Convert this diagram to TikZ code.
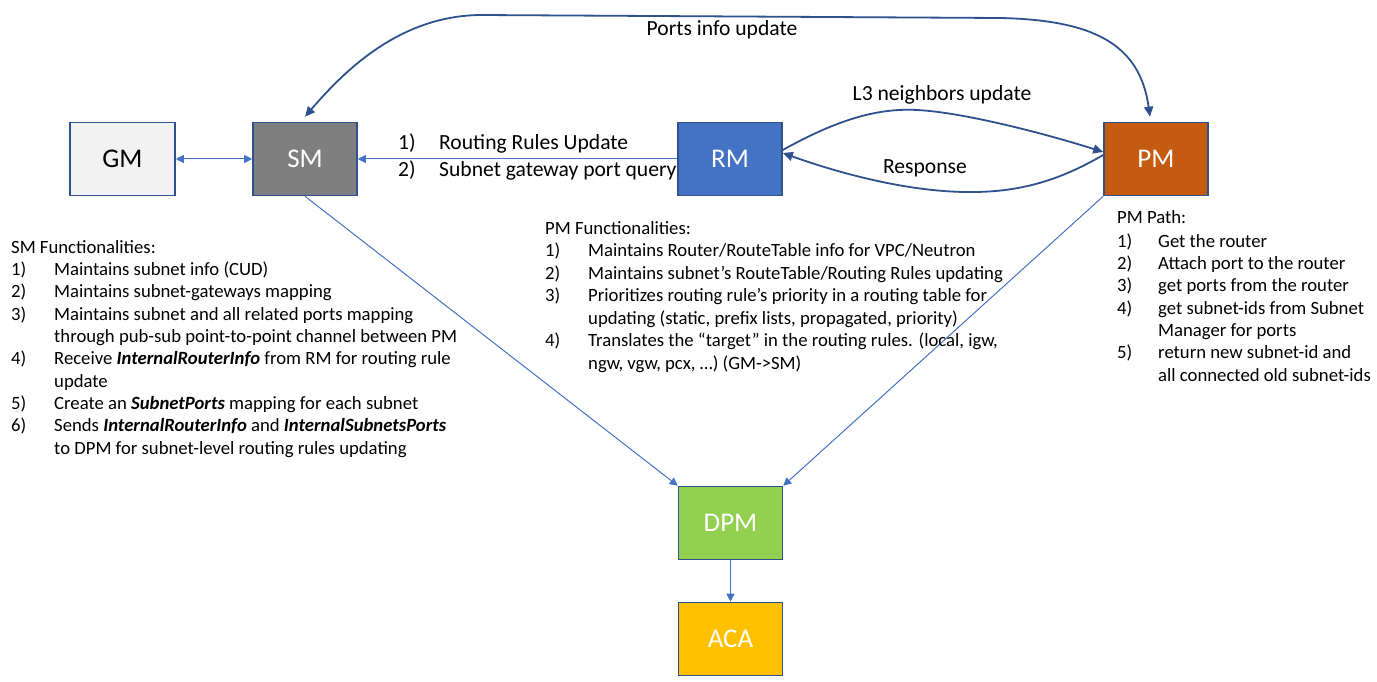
\documentclass[tikz,border=0pt]{standalone}
\usepackage{fontspec}
\setmainfont{Carlito}
\usetikzlibrary{arrows.meta}
\definecolor{bordc}{HTML}{2F528F}
\definecolor{thinc}{HTML}{4472C4}
\definecolor{gmf}{HTML}{F2F2F2}
\definecolor{smf}{HTML}{7F7F7F}
\definecolor{rmf}{HTML}{4472C4}
\definecolor{pmf}{HTML}{C55A11}
\definecolor{dpmf}{HTML}{92D050}
\definecolor{acaf}{HTML}{FFC000}
\newcommand{\bi}[1]{\textbf{\textit{#1}}}
\begin{document}
\begin{tikzpicture}[x=1pt,y=-1pt,
  box/.style={draw=bordc,line width=1.6pt,minimum width=104pt,minimum height=73pt,inner sep=0pt,font=\fontsize{27}{30}\selectfont,text=white},
  thin/.style={draw=thinc,line width=1pt,-{Triangle[width=8pt,length=8pt]}},
  thick/.style={draw=bordc,line width=1.8pt},
  lst/.style={anchor=base west,inner sep=0pt,align=left},
  lbl/.style={inner sep=0pt,font=\fontsize{21.6}{26}\selectfont}]
\useasboundingbox (0,0) rectangle (1377,682);
\fill[white] (0,0) rectangle (1377,682);
% boxes
\node[box,fill=gmf,text=black,minimum width=105pt] (gm) at (122.5,159) {GM};
\node[box,fill=smf] (sm) at (305,159) {SM};
\node[box,fill=rmf] (rm) at (730,159) {RM};
\node[box,fill=pmf] (pm) at (1156,159) {PM};
\node[box,fill=dpmf] (dpm) at (730.5,523) {DPM};
\node[box,fill=acaf] (aca) at (730.5,639) {ACA};
% thin connectors
\draw[thin,{Triangle[width=8pt,length=8pt]}-{Triangle[width=8pt,length=8pt]}] (gm.east) -- (sm.west);
\draw[thin] (rm.west) -- (sm.east);
\draw[thin] (sm.south) -- (dpm.north west);
\draw[thin] (pm.south west) -- (dpm.north east);
\draw[thin] (dpm.south) -- (aca.north);
% thick curves
\draw[thick,{Triangle[width=9pt,length=10pt]}-{Triangle[width=9pt,length=10pt]}]
  ([yshift=5pt]sm.north) .. controls (345,70) and (400,16) .. (480,15)
  -- (1000,18) .. controls (1095,20) and (1140,45) .. ([xshift=-6pt,yshift=5pt]pm.north);
\draw[thick,-{Triangle[width=9pt,length=10pt]}]
  ([yshift=9pt]rm.east) .. controls (840,118) and (880,108) .. (917,110)
  .. controls (960,112) and (1040,132) .. ([yshift=7pt]pm.west);
\draw[thick,-{Triangle[width=9pt,length=10pt]}]
  ([yshift=4pt]pm.west) .. controls (1060,180) and (1020,193) .. (965,192)
  .. controls (900,191) and (830,170) .. ([yshift=6pt]rm.east);
% labels
\node[lbl] (lports) at (722,30) {Ports info update};
\node[lbl] (ll3) at (942,95) {L3 neighbors update};
\node[lbl] (lresp) at (925,168) {Response};
\node[lst,font=\fontsize{21.6}{26}\selectfont] (lrr1) at (398,149.5) {\makebox[41pt][l]{1)}Routing Rules Update};
\node[lst,font=\fontsize{21.6}{26}\selectfont] (lrr2) at (398,177) {\makebox[41pt][l]{2)}Subnet gateway port query};
% lists
\node[lst,font=\fontsize{18.7}{22.33}\selectfont] (smlist) at (11,454) {SM Functionalities:\\
\makebox[43pt][l]{1)}Maintains subnet info (CUD)\\
\makebox[43pt][l]{2)}Maintains subnet-gateways mapping\\
\makebox[43pt][l]{3)}Maintains subnet and all related ports mapping\\
\makebox[43pt][l]{}through pub-sub point-to-point channel between PM\\
\makebox[43pt][l]{4)}Receive \bi{InternalRouterInfo} from RM for routing rule\\
\makebox[43pt][l]{}update\\
\makebox[43pt][l]{5)}Create an \bi{SubnetPorts} mapping for each subnet\\
\makebox[43pt][l]{6)}Sends \bi{InternalRouterInfo} and \bi{InternalSubnetsPorts}\\
\makebox[43pt][l]{}to DPM for subnet-level routing rules updating};
\node[lst,font=\fontsize{18.7}{22.5}\selectfont] (pmfunc) at (545,369) {PM Functionalities:\\
\makebox[43pt][l]{1)}Maintains Router/RouteTable info for VPC/Neutron\\
\makebox[43pt][l]{2)}Maintains subnet’s RouteTable/Routing Rules updating\\
\makebox[43pt][l]{3)}Prioritizes routing rule’s priority in a routing table for\\
\makebox[43pt][l]{}updating (static, prefix lists, propagated, priority)\\
\makebox[43pt][l]{4)}Translates the “target” in the routing rules. (local, igw,\\
\makebox[43pt][l]{}ngw, vgw, pcx, …) (GM->SM)};
\node[lst,font=\fontsize{18.7}{22.3}\selectfont] (pmpath) at (1117,381) {PM Path:\\[1.6pt]
\makebox[41pt][l]{1)}Get the router\\
\makebox[41pt][l]{2)}Attach port to the router\\
\makebox[41pt][l]{3)}get ports from the router\\
\makebox[41pt][l]{4)}get subnet-ids from Subnet\\
\makebox[41pt][l]{}Manager for ports\\
\makebox[41pt][l]{5)}return new subnet-id and\\
\makebox[41pt][l]{}all connected old subnet-ids};
\end{tikzpicture}
\end{document}
